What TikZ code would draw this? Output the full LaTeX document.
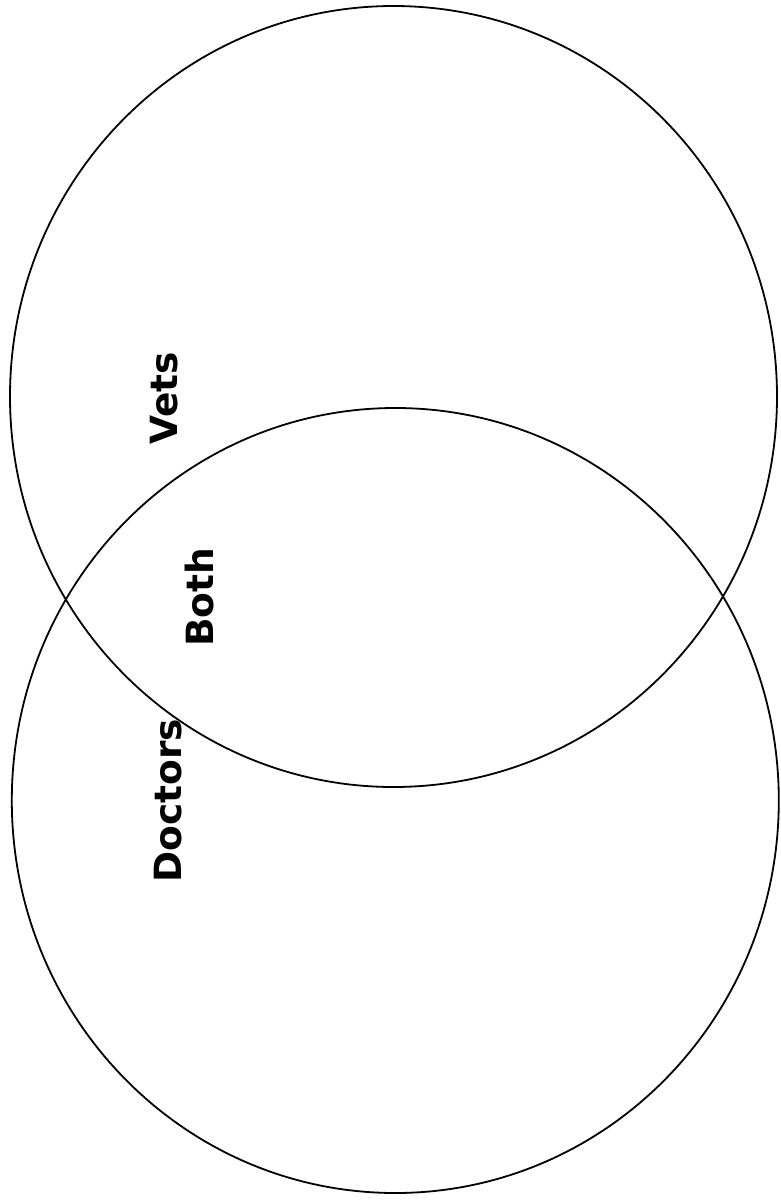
\documentclass[tikz,border=0pt]{standalone}
\usepackage{fontspec}
\setmainfont{DejaVu Sans}
\usetikzlibrary{shapes.geometric}
\begin{document}
\begin{tikzpicture}[x=1pt,y=-1pt,
  setcircle/.style={draw=black, line width=1.8pt, ellipse, inner sep=0pt},
  setlabel/.style={rotate=90, anchor=base, inner sep=0pt, font=\fontsize{37.5}{40}\selectfont\bfseries}]
\useasboundingbox (0,0) rectangle (780,1202);
\node[setcircle, minimum width=767pt, minimum height=781pt] (vets) at (393.5,396.5) {};
\node[setcircle, minimum width=767pt, minimum height=785pt] (doctors) at (395.3,800.5) {};
\node[setlabel] (vetslabel) at (177,398.5) {Vets};
\node[setlabel] (bothlabel) at (213,597.5) {Both};
\node[setlabel] (doctorslabel) at (181,800.5) {Doctors};
\end{tikzpicture}
\end{document}
